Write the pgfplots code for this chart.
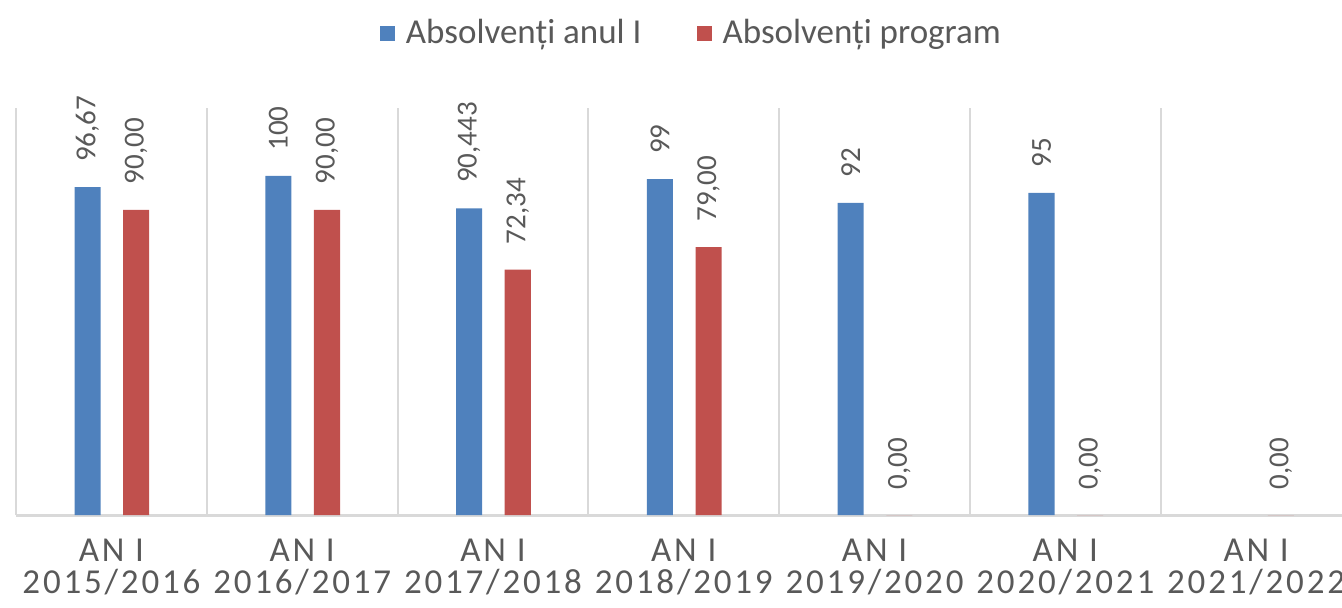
\documentclass[border=0pt]{standalone}
\usepackage{pgfplots}
\pgfplotsset{compat=1.18}
\usepackage{pgfplotstable}
\usepackage{fontspec}
\setmainfont{Carlito}
\newfontfamily\spaced[LetterSpace=8]{Carlito}
\definecolor{cblue}{HTML}{4F81BD}
\definecolor{cred}{HTML}{C0504D}
\definecolor{gridc}{HTML}{D9D9D9}
\definecolor{txt}{HTML}{595959}

\pgfplotstableread{
x y lab
0 96.67 96,67
1 100 100
2 90.443 90,443
3 99 99
4 92 92
5 95 95
}\tblue

\pgfplotstableread{
x y lab
0 90 90,00
1 90 90,00
2 72.34 72,34
3 79 79,00
4 0 0,00
5 0 0,00
6 0 0,00
}\tred

\begin{document}
\begin{tikzpicture}
\begin{axis}[
  name=ax,
  scale only axis,
  width=667.75pt, height=203.5pt,
  xmin=-0.5, xmax=6.5, ymin=0, ymax=120,
  ybar, bar width=0.1365,
  legend image code/.code={\fill[#1] (0pt,-3.75pt) rectangle (7.5pt,3.75pt);},
  clip=false,
  axis x line=bottom, axis y line=none,
  x axis line style={-, draw=gridc, line width=1.5pt},
  xtick={0,...,6},
  xticklabels={{AN I\\2015/2016},{AN I\\2016/2017},{AN I\\2017/2018},{AN I\\2018/2019},{AN I\\2019/2020},{AN I\\2020/2021},{AN I\\2021/2022}},
  xticklabel style={align=center, font=\spaced\fontsize{17.5}{16}\selectfont, text=txt, inner sep=0pt, yshift=-12pt},
  major tick length=0pt, minor tick length=0pt,
  minor xtick={-0.5,0.5,...,6.5},
  xminorgrids=true,
  minor grid style={draw=gridc, line width=1pt},
  point meta=explicit symbolic,
  nodes near coords={\pgfplotspointmeta},
  every node near coord/.append style={rotate=90, anchor=west, inner xsep=12.5pt, inner ysep=0pt, font=\fontsize{14.5}{17}\selectfont, text=txt},
  legend style={at={(0.505,1.184)}, anchor=center, draw=none, legend columns=2,
    font=\fontsize{17.5}{21}\selectfont, text=txt,
    nodes={inner sep=0pt},
    /tikz/every odd column/.append style={column sep=5.5pt},
    /tikz/every even column/.append style={column sep=27.5pt}},
]
\addplot[fill=cblue, draw=none, bar shift=-0.125] table[x=x, y=y, meta=lab] {\tblue};
\addlegendentry{Absolvenți anul I}
\addplot[fill=cred, draw=none, bar shift=0.13] table[x=x, y=y, meta=lab] {\tred};
\addlegendentry{Absolvenți program}
\end{axis}
\pgfresetboundingbox
\path ([shift={(-8pt,-46pt)}]ax.south west) rectangle ([shift={(663pt,54pt)}]ax.north west);
\end{tikzpicture}
\end{document}
